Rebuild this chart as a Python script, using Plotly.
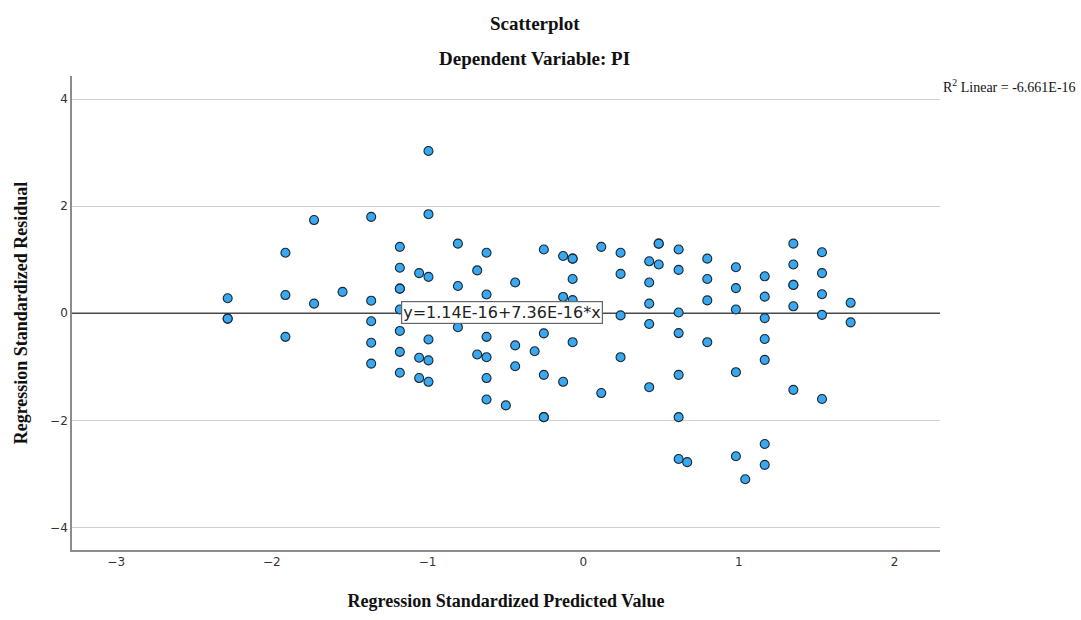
import plotly.graph_objects as go

# Regression standardized predicted values (x) and residuals (y)
pred = [
    -2.284, -2.284, -2.284,
    -1.913, -1.913, -1.913,
    -1.729, -1.729,
    -1.546,
    -1.362, -1.362, -1.362, -1.362, -1.362,
    -1.178, -1.178, -1.178, -1.178, -1.178, -1.178, -1.178, -1.178,
    -1.054, -1.054, -1.054,
    -0.994, -0.994, -0.994, -0.994, -0.994, -0.994,
    -0.805, -0.805, -0.805,
    -0.681, -0.681,
    -0.621, -0.621, -0.621, -0.621, -0.621, -0.621,
    -0.497,
    -0.437, -0.437, -0.437,
    -0.312,
    -0.253, -0.253, -0.253, -0.253, -0.253,
    -0.129, -0.129, -0.129,
    -0.068, -0.068, -0.068, -0.068, -0.068,
    0.116, 0.116,
    0.240, 0.240, 0.240, 0.240,
    0.424, 0.424, 0.424, 0.424, 0.424,
    0.485, 0.485, 0.485,
    0.613, 0.613, 0.613, 0.613, 0.613, 0.613, 0.613,
    0.668,
    0.797, 0.797, 0.797, 0.797,
    0.981, 0.981, 0.981, 0.981, 0.981,
    1.041,
    1.166, 1.166, 1.166, 1.166, 1.166, 1.166, 1.166,
    1.350, 1.350, 1.350, 1.350, 1.350, 1.350,
    1.534, 1.534, 1.534, 1.534, 1.534,
    1.718, 1.718,
]
resid = [
    0.28, -0.10, -0.10,
    1.13, 0.34, -0.44,
    1.74, 0.18,
    0.40,
    1.80, 0.235, -0.15, -0.55, -0.94,
    1.24, 0.85, 0.46, 0.46, 0.07, -0.33, -0.72, -1.11,
    0.75, -0.83, -1.21,
    3.03, 1.85, 0.68, -0.49, -0.88, -1.28,
    1.30, 0.51, -0.26,
    0.80, -0.77,
    1.13, 0.35, -0.44, -0.82, -1.21, -1.61,
    -1.72,
    0.575, -0.60, -0.99,
    -0.71,
    1.19, -0.375, -1.15, -1.94, -1.94,
    1.07, 0.305, -1.28,
    1.02, 1.02, 0.64, 0.245, -0.54,
    1.24, -1.49,
    1.13, 0.735, -0.04, -0.82,
    0.97, 0.575, 0.18, -0.20, -1.38,
    1.30, 1.30, 0.91,
    1.19, 0.81, 0.015, -0.37, -1.15, -1.94, -2.72,
    -2.78,
    1.02, 0.64, 0.24, -0.54,
    0.86, 0.47, 0.07, -1.10, -2.67,
    -3.10,
    0.69, 0.31, -0.09, -0.48, -0.87, -2.44, -2.83,
    1.30, 0.91, 0.53, 0.53, 0.13, -1.43,
    1.14, 0.75, 0.355, -0.03, -1.60,
    0.195, -0.17,
]

x_ticks = [-3, -2, -1, 0, 1, 2]
y_ticks = [-4, -2, 0, 2, 4]
intercept = 1.14e-16
slope = 7.36e-16
fit_label = "y=1.14E-16+7.36E-16*x"
r2_label = "R<sup>2</sup> Linear = -6.661E-16"
title_main = "Scatterplot"
title_sub = "Dependent Variable: PI"
x_title = "Regression Standardized Predicted Value"
y_title = "Regression Standardized Residual"
x_range = [-3.284, 2.292]
y_range = [-4.42, 4.43]

serif = "Liberation Serif"
sans = "DejaVu Sans"

fig = go.Figure()

fig.add_trace(go.Scatter(
    x=[x_range[0], x_range[1]],
    y=[intercept + slope * x_range[0], intercept + slope * x_range[1]],
    mode="lines",
    line=dict(color="#4a4a4a", width=1.6),
    hoverinfo="skip",
    showlegend=False,
))

fig.add_trace(go.Scatter(
    x=pred, y=resid,
    mode="markers",
    marker=dict(size=9, color="#38a8f0", line=dict(color="#1c2630", width=1.1)),
    showlegend=False,
))

fig.add_annotation(
    x=-1.17, y=0.02, xref="x", yref="y",
    text=fit_label, showarrow=False,
    xanchor="left", yanchor="middle",
    font=dict(family=sans, size=16, color="#222"),
    bgcolor="white", bordercolor="#666", borderwidth=1.2, borderpad=1,
)

fig.add_annotation(
    x=1.0, y=4.25, xref="paper", yref="y",
    text=r2_label, showarrow=False,
    xanchor="left", yanchor="middle", xshift=1,
    font=dict(family=serif, size=14, color="#111"),
)

fig.add_annotation(
    x=0.533, y=1.110, xref="paper", yref="paper",
    text="<b>" + title_main + "</b>", showarrow=False,
    xanchor="center", yanchor="middle",
    font=dict(family=serif, size=19, color="#111"),
)
fig.add_annotation(
    x=0.533, y=1.037, xref="paper", yref="paper",
    text="<b>" + title_sub + "</b>", showarrow=False,
    xanchor="center", yanchor="middle",
    font=dict(family=serif, size=19, color="#111"),
)

fig.update_layout(
    width=1081, height=620,
    margin=dict(l=72, r=141, t=76, b=63),
    paper_bgcolor="white", plot_bgcolor="white",
    xaxis=dict(
        range=x_range, tickvals=x_ticks, showgrid=False, zeroline=False,
        showline=True, linecolor="#8c8c8c", linewidth=1.6,
        ticks="", tickfont=dict(family=sans, size=12, color="#333"),
        title=dict(text="<b>" + x_title + "</b>",
                   font=dict(family=serif, size=18, color="#111"), standoff=26),
    ),
    yaxis=dict(
        range=y_range, tickvals=y_ticks, showgrid=True, gridcolor="#cfcfcf",
        gridwidth=1.4, zeroline=False,
        showline=True, linecolor="#8c8c8c", linewidth=1.6,
        ticks="", tickfont=dict(family=sans, size=12, color="#333"),
        title=dict(text="<b>" + y_title + "</b>",
                   font=dict(family=serif, size=18, color="#111"), standoff=18),
    ),
)

fig.write_html("out.html")
